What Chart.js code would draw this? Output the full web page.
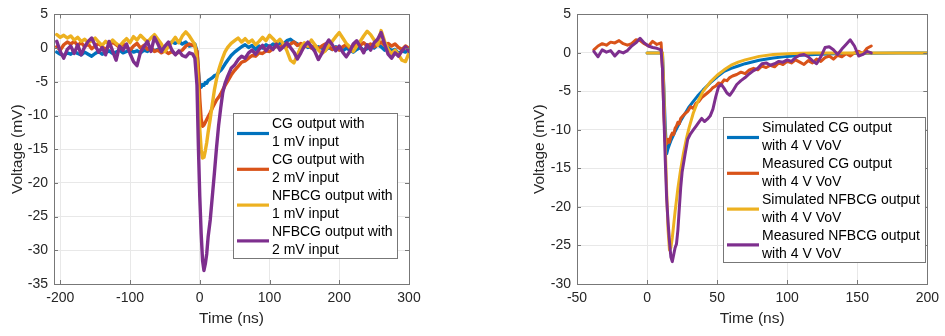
<!DOCTYPE html>
<html lang="en">
<head>
<meta charset="UTF-8">
<title>CG vs NFBCG output pulses</title>
<script src="https://cdn.jsdelivr.net/npm/chart.js"></script>
<style>
    * { margin: 0; padding: 0; box-sizing: border-box; }
    body { background: #fff; width: 945px; height: 336px; overflow: hidden; position: relative; }
    .panel { position: absolute; top: 0; height: 336px; }
    #left { left: 0; width: 430px; }
    #right { left: 470px; width: 475px; }
</style>
</head>
<body>
<div class="panel" id="left"><canvas id="chartL" width="430" height="336"></canvas></div>
<div class="panel" id="right"><canvas id="chartR" width="475" height="336"></canvas></div>
<script>
// ---- left panel: measured outputs for 1 mV / 2 mV input ----
const timeL = [
    -205, -200, -195, -190, -185, -180, -175, -170, -165, -160,
    -155, -150, -145, -140, -135, -130, -125, -120, -115, -110,
    -105, -100, -95, -90, -85, -80, -75, -70, -65, -60,
    -55, -50, -45, -40, -35, -30, -25, -20, -15, -10,
    -7, -4, -2, 0, 2, 4, 6, 8, 10, 12, 15, 18, 21, 24, 27, 30, 33, 36, 40, 45, 50, 55,
    60, 65, 70, 75, 80, 85, 90, 95, 100, 105,
    110, 115, 120, 125, 130, 135, 140, 145, 150, 155,
    160, 165, 170, 175, 180, 185, 190, 195, 200, 205,
    210, 215, 220, 225, 230, 235, 240, 245, 250, 255,
    260, 265, 270, 275, 280, 285, 290, 295, 300
];
const cg1mV = [
    -0.6, -0.9, -1.1, -0.7, -0.9, -0.5, -0.8, -1.0, -0.6, -0.9,
    -1.2, -0.8, -0.5, -0.9, -0.7, -0.4, -0.8, -0.6, -0.3, -0.7,
    -0.5, -0.2, -0.6, -0.4, -0.7, -0.3, -0.5, -0.1, -0.4, -0.2,
    0.1, -0.2, 0.6, 0.9, 0.7, 1.0, 0.6, 0.9, 0.3, 0.4,
    0.6, -0.5, -3.5, -5.6, -5.8, -5.4, -5.5, -5.1, -5.2, -4.8, -4.6, -4.4, -4.1, -4.0, -3.6, -3.3, -2.9, -2.4, -1.8, -1.1, -0.6, -0.2,
    0.2, 0.5, 0.1, 0.4, -0.2, 0.3, 0.0, 0.5, 0.2, 0.6,
    0.3, 0.8, 0.6, 1.1, 1.3, 0.9, 0.6, 0.3, 0.5, 0.1,
    0.3, -0.2, 0.2, 0.0, -0.3, 0.1, -0.2, 0.2, -0.1, -0.4,
    0.0, -0.3, -0.6, -0.2, 0.1, -0.3, -0.1, 0.3, 0.0, 0.5,
    0.2, -0.3, 0.1, -0.4, -0.2, -0.8, -0.4, -0.6, -0.3
];
const cg2mV = [
    0.2, -0.3, 0.5, 0.9, 0.6, 1.0, 0.4, 0.8, 0.2, 0.6,
    -0.1, 0.3, 0.7, 0.2, -0.2, 0.4, 0.9, 0.5, 0.1, 0.6,
    0.2, -0.3, 0.3, 0.7, 0.0, 0.4, -0.2, 0.1, -0.5, -0.3,
    -0.7, -0.4, -0.8, -0.5, -0.9, -0.6, -0.3, 0.3, 0.6, 0.4,
    0.3, -0.5, -3.0, -7.5, -10.5, -11.6, -11.4, -11.0, -10.6, -10.2, -9.6, -8.9, -8.3, -7.7, -7.3, -6.8, -6.2, -5.6, -4.9, -4.0, -3.3, -2.7,
    -2.1, -1.9, -1.5, -1.1, -1.2, -0.7, -0.8, -0.4, -0.5, -0.1,
    0.3, 0.1, 0.5, 0.2, 0.6, 0.9, 0.4, 0.7, 0.2, 0.5,
    0.0, 0.4, -0.1, 0.3, 0.6, 0.2, -0.2, 0.1, -0.3, 0.2,
    0.5, 0.0, 0.3, 0.7, 0.4, 0.8, 0.3, 0.6, 0.2, 0.5,
    0.9, 0.4, 0.7, 0.3, 0.6, 0.1, -0.2, 0.3, 0.0
];
const nfb1mV = [
    2.0, 1.6, 1.9, 1.5, 1.8, 1.2, 1.6, 1.0, 1.3, 0.8,
    1.1, 1.5, 0.9, 0.4, 1.0, 0.6, 1.2, 0.7, 0.3, 0.9,
    1.4, 0.8, 1.7, 1.2, 1.9, 1.4, 0.9, 1.5, 2.0, 1.3,
    0.6, -0.5, 0.2, 0.9, 1.6, 0.8, 1.8, 2.4, 1.8, 1.0,
    0.5, -2.0, -7.0, -12.0, -15.0, -16.3, -16.2, -15.2, -14.0, -12.5, -10.5, -8.3, -6.2, -4.6, -3.3, -2.3, -1.4, -0.6, 0.1, 0.7, 1.1, 1.5,
    0.9, 1.4, 0.8, 1.2, 0.5, 1.0, 1.6, 1.1, 1.9, 1.4,
    0.8, 1.3, 0.6, -0.4, -1.8, -2.2, -1.0, 0.2, 0.8, 0.3,
    1.2, 0.5, -0.3, -0.8, -0.4, 0.4, 1.0, 1.7, 2.3, 1.5,
    0.7, 0.2, -0.5, 0.3, 1.0, 1.8, 2.5, 2.0, 1.2, 0.4,
    2.6, 1.0, -0.2, -0.8, -0.3, -1.0, -1.8, -2.0, -0.7
];
const nfb2mV = [
    1.0, -0.5, -1.5, -0.2, 0.3, -0.8, 0.5, -1.0, 0.2, 1.0,
    1.5, 0.4, -0.6, 0.1, -1.0, 1.0, -0.4, -1.8, 0.3, -0.3,
    0.6, -0.8, -2.0, -2.6, -0.6, 0.2, 1.0, -0.5, 1.6, 0.6,
    -0.5, 0.3, 0.9, -0.3, -1.0, -0.4, -1.1, -1.3, -0.7, -0.9,
    -1.5, -5.5, -14.5, -22.0, -27.5, -31.5, -33.0, -32.0, -30.5, -28.0, -25.5, -22.0, -18.5, -14.8, -11.5, -8.9, -6.6, -5.3, -4.2, -3.0, -2.5, -1.7,
    -1.2, -1.5, -0.7, -0.3, -0.9, -0.2, 0.4, -0.4, 0.3, -0.2,
    0.6, -0.3, 0.2, 0.8, 0.1, -0.6, -1.6, -0.7, 0.3, 0.9,
    0.2, -0.5, -1.7, -0.8, 0.4, 1.2, 0.5, -0.4, 0.3, -0.6,
    -1.3, -0.5, 0.6, 1.1, 0.2, -0.7, 0.5, -0.3, 0.8, 1.3,
    2.3, 0.6, -0.9, -1.5, -0.7, -1.2, -0.4, 0.2, -0.5
];
const xTicksL = [-200, -100, 0, 100, 200, 300];
const yTicksL = [5, 0, -5, -10, -15, -20, -25, -30, -35];
const legendL = [
    ['CG output with', '1 mV input'],
    ['CG output with', '2 mV input'],
    ['NFBCG output with', '1 mV input'],
    ['NFBCG output with', '2 mV input']
];

// ---- right panel: simulated vs measured, 4 V VoV ----
const timeSim = [0, 11, 12, 13, 14, 15, 16, 17, 18, 19, 20, 22, 24, 26, 28, 30, 33, 36, 40, 45,
    50, 55, 60, 65, 70, 80, 90, 100, 110, 120, 130, 140, 160, 180, 200];
const simCG = [0, 0, -4.5, -9.5, -13.1, -12.4, -11.9, -11.4, -11.0, -10.6, -10.2, -9.5, -8.8, -8.2, -7.6, -7.0, -6.3, -5.6, -4.8, -3.9,
    -3.1, -2.4, -2.0, -1.7, -1.4, -0.95, -0.65, -0.45, -0.3, -0.2, -0.13, -0.08, -0.03, 0, 0];
const simNFB = [0, 0, -5, -12, -18, -23, -25.6, -25.3, -24.0, -22.3, -20.6, -17.6, -15.1, -13.0, -11.2, -9.7, -7.8, -6.4, -5.0, -3.8,
    -2.9, -2.2, -1.6, -1.2, -0.9, -0.45, -0.22, -0.1, -0.05, 0, 0, 0, 0, 0, 0];
const timeMeas = [
    -38, -35, -32, -29, -26, -23, -20, -17, -14, -11, -8, -5, -2, 1, 4, 7, 10,
    11, 12, 13, 14, 15, 16, 17, 18, 19, 20, 21, 22, 23, 24, 25,
    27, 29, 31, 33, 35, 37, 39, 41, 43, 45, 47, 49, 51, 53, 55, 57, 59, 61,
    64, 67, 70, 73, 76, 79, 82, 85, 88, 91, 94, 97, 100, 103, 106, 109, 112,
    115, 118, 121, 124, 127, 130, 133, 136, 139, 142, 145, 148, 151, 154, 157, 160
];
const measCG = [
    0.4, 0.9, 1.2, 1.0, 1.4, 1.3, 1.6, 1.2, 1.0, 1.2, 1.7, 1.6, 1.2, 0.9, 1.5, 1.1, 1.3,
    -2.0, -8.0, -11.5, -11.8, -11.2, -11.6, -10.8, -10.4, -10.6, -9.8, -9.5, -9.0, -9.2, -8.5, -8.3,
    -7.9, -7.6, -7.0, -7.2, -6.5, -6.3, -5.8, -5.5, -5.2, -4.9, -4.5, -4.3, -3.9, -4.0, -3.5, -3.6, -3.2, -3.0,
    -2.8, -2.5, -2.7, -2.2, -2.0, -2.2, -1.7, -1.9, -1.6, -1.8, -1.3, -1.5, -1.1, -1.3, -0.9, -1.2, -1.5,
    -1.0, -1.3, -0.8, -1.1, -0.6, -0.4, -0.8, -0.3, -0.5, -0.1, -0.4, 0.0, 0.2, -0.1, 0.6, 0.9
];
const measNFB = [
    0.2, -0.5, 0.4, 0.1, 0.3, -0.4, 0.2, 0.0, 0.3, 0.9, 1.3, 1.9, 1.3, 0.9, 0.7, 0.6, 0.4,
    -2.0, -8.0, -14.0, -19.0, -22.0, -24.5, -26.5, -27.1, -26.2, -25.3, -24.8, -23.0, -20.2, -17.5, -15.5,
    -13.3, -11.2, -10.5, -10.0, -9.5, -9.0, -8.5, -8.9, -8.6, -8.2, -7.3, -5.7, -4.4, -4.1, -4.6, -5.2, -5.5, -5.0,
    -4.1, -3.6, -3.2, -2.7, -2.3, -2.0, -1.4, -1.3, -1.6, -1.4, -1.1, -1.2, -0.9, -1.1, -0.6, -0.3, -0.2,
    -0.5, -1.0, -1.4, -0.5, 0.7, 0.8, 0.4, -0.2, 0.5, 1.1, 1.7, 0.9, -0.4, -0.2, 0.2, 0.0
];
const xTicksR = [-50, 0, 50, 100, 150, 200];
const yTicksR = [5, 0, -5, -10, -15, -20, -25, -30];
const legendR = [
    ['Simulated CG output', 'with 4 V VoV'],
    ['Measured CG output', 'with 4 V VoV'],
    ['Simulated NFBCG output', 'with 4 V VoV'],
    ['Measured NFBCG output', 'with 4 V VoV']
];

const FONT = "'Liberation Sans', Arial, Helvetica, sans-serif";
const COLORS = ['#0072BD', '#D95319', '#EDB120', '#7E2F8E'];

function points(xs, ys) {
    return xs.map((x, i) => ({ x: x, y: ys[i] }));
}

// box round the plot area plus matlab-style inward tick marks
const boxPlugin = {
    id: 'matlabBox',
    afterDatasetsDraw(chart) {
        const { ctx, chartArea: a, scales } = chart;
        ctx.save();
        ctx.strokeStyle = '#777';
        ctx.lineWidth = 1;
        ctx.beginPath();
        scales.x.ticks.forEach(t => {
            const px = Math.round(scales.x.getPixelForValue(t.value)) + 0.5;
            ctx.moveTo(px, a.bottom); ctx.lineTo(px, a.bottom - 4);
            ctx.moveTo(px, a.top); ctx.lineTo(px, a.top + 4);
        });
        scales.y.ticks.forEach(t => {
            const py = Math.round(scales.y.getPixelForValue(t.value)) + 0.5;
            ctx.moveTo(a.left, py); ctx.lineTo(a.left + 4, py);
            ctx.moveTo(a.right, py); ctx.lineTo(a.right - 4, py);
        });
        ctx.stroke();
        ctx.strokeRect(Math.round(a.left) + 0.5, Math.round(a.top) + 0.5,
            Math.round(a.right - a.left), Math.round(a.bottom - a.top));
        ctx.restore();
    }
};

// boxed legend with two-line labels
const boxLegend = {
    id: 'boxLegend',
    afterDraw(chart, args, opts) {
        const { ctx } = chart;
        const { x, y, w, h } = opts;
        ctx.save();
        ctx.fillStyle = '#fff';
        ctx.fillRect(x, y, w, h);
        ctx.strokeStyle = '#777';
        ctx.lineWidth = 1;
        ctx.strokeRect(x + 0.5, y + 0.5, w, h);
        ctx.font = '14px ' + FONT;
        ctx.textBaseline = 'middle';
        chart.data.datasets.forEach((ds, i) => {
            const row = y + 11.5 + i * 2 * 17.9;
            ctx.strokeStyle = ds.borderColor;
            ctx.lineWidth = 3.2;
            ctx.beginPath();
            ctx.moveTo(x + 4, row + 9);
            ctx.lineTo(x + 36, row + 9);
            ctx.stroke();
            ctx.fillStyle = '#000';
            ds.legendLines.forEach((t, k) => ctx.fillText(t, x + 39, row + k * 17.9));
        });
        ctx.restore();
    }
};

function makeScale(min, max, tickVals, isX, size, titleText, titlePad) {
    return {
        type: 'linear',
        min: min,
        max: max,
        afterBuildTicks: s => { s.ticks = tickVals.map(v => ({ value: v })); },
        afterFit: s => { if (isX) s.height = size; else s.width = size; },
        grid: { color: '#e8e8e8', drawTicks: false },
        border: { display: false },
        ticks: {
            color: '#262626',
            font: { family: FONT, size: 14 },
            padding: 6,
            autoSkip: false,
            maxRotation: 0,
            callback: v => String(v)
        },
        title: {
            display: true,
            text: titleText,
            color: '#262626',
            font: { family: FONT, size: 15.5 },
            padding: titlePad
        }
    };
}

function makeChart(id, sets, opt) {
    return new Chart(document.getElementById(id), {
        type: 'line',
        data: {
            datasets: sets.map((s, i) => ({
                label: s.legend.join(' '),
                legendLines: s.legend,
                data: points(s.x, s.y),
                borderColor: COLORS[i],
                backgroundColor: COLORS[i],
                borderWidth: opt.lineWidth,
                borderJoinStyle: 'round',
                borderCapStyle: 'round',
                pointRadius: 0,
                fill: false,
                tension: 0,
                order: 3 - i
            }))
        },
        options: {
            responsive: false,
            animation: false,
            layout: { padding: opt.padding },
            scales: {
                x: makeScale(opt.xMin, opt.xMax, opt.xTicks, true, 52, 'Time (ns)', { top: 0, bottom: 8.4 }),
                y: makeScale(opt.yMin, opt.yMax, opt.yTicks, false, opt.yWidth, 'Voltage (mV)', { top: opt.yTitlePad, bottom: 0 })
            },
            plugins: {
                legend: { display: false },
                tooltip: { enabled: false },
                boxLegend: opt.legendBox
            }
        },
        plugins: [boxPlugin, boxLegend]
    });
}

makeChart('chartL', [
    { x: timeL, y: cg1mV, legend: legendL[0] },
    { x: timeL, y: cg2mV, legend: legendL[1] },
    { x: timeL, y: nfb1mV, legend: legendL[2] },
    { x: timeL, y: nfb2mV, legend: legendL[3] }
], {
    xMin: -209, xMax: 300, xTicks: xTicksL,
    yMin: -35, yMax: 5, yTicks: yTicksL,
    yWidth: 54, yTitlePad: 8,
    padding: { top: 10, right: 21, left: 0, bottom: 0 },
    lineWidth: 3.4,
    legendBox: { x: 233, y: 113, w: 164, h: 145 }
});

makeChart('chartR', [
    { x: timeSim, y: simCG, legend: legendR[0] },
    { x: timeMeas, y: measCG, legend: legendR[1] },
    { x: timeSim, y: simNFB, legend: legendR[2] },
    { x: timeMeas, y: measNFB, legend: legendR[3] }
], {
    xMin: -50, xMax: 200, xTicks: xTicksR,
    yMin: -30, yMax: 5, yTicks: yTicksR,
    yWidth: 57, yTitlePad: 10,
    padding: { top: 9, right: 13, left: 50, bottom: 0 },
    lineWidth: 3,
    legendBox: { x: 253, y: 117, w: 202, h: 145 }
});
</script>
</body>
</html>
